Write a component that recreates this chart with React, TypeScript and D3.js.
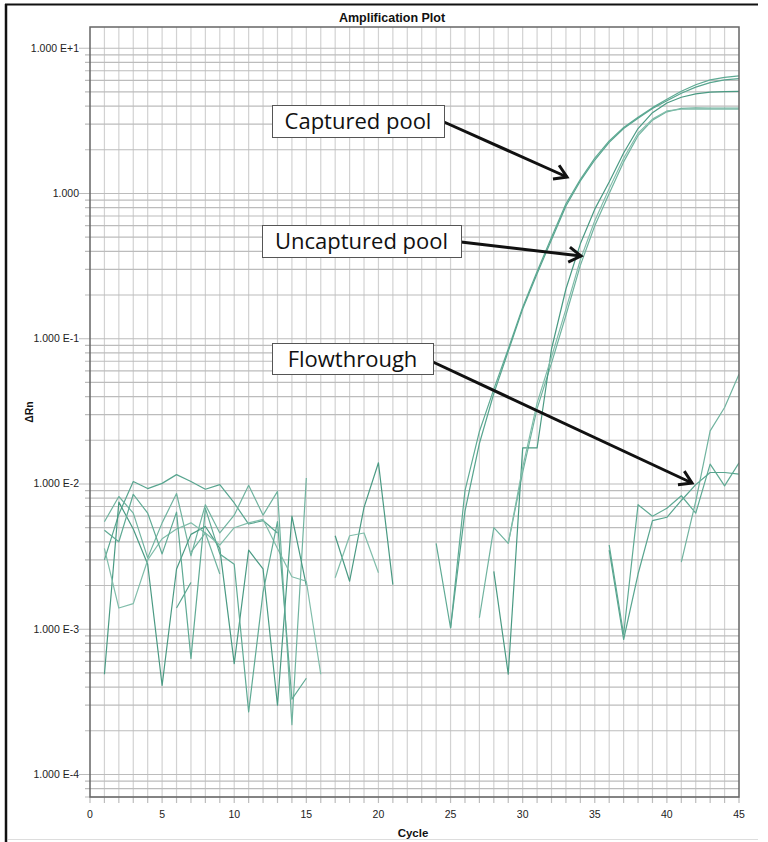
import React from 'react';
import * as d3 from 'd3';

const W = 768;
const H = 842;

// ---- axis data ----
const xDomain = [0, 45];
const yDomain = [7e-5, 14];
const xTickValues = [0, 5, 10, 15, 20, 25, 30, 35, 40, 45];
const yTickValues = [10, 1, 0.1, 0.01, 0.001, 0.0001];
const yTickLabels = ['1.000 E+1', '1.000', '1.000 E-1', '1.000 E-2', '1.000 E-3', '1.000 E-4'];

// ---- series data: first cycle + ΔRn values per cycle ----
const capturedPoolA = { start: 24, values: [0.0039, 0.00102, 0.009, 0.023, 0.045, 0.085, 0.165, 0.29, 0.5, 0.85, 1.25, 1.75, 2.3, 2.85, 3.35, 3.9, 4.45, 5.05, 5.6, 6.05, 6.3, 6.45] };
const capturedPoolB = { start: 25, values: [0.00102, 0.0065, 0.019, 0.042, 0.082, 0.16, 0.28, 0.48, 0.82, 1.22, 1.7, 2.25, 2.8, 3.3, 3.85, 4.35, 4.9, 5.4, 5.8, 6.05, 6.18] };
const uncapturedPoolA = { start: 27, values: [0.0012, 0.005, 0.0039, 0.012, 0.033, 0.068, 0.145, 0.32, 0.6, 1.0, 1.65, 2.5, 3.2, 3.65, 3.85, 3.88, 3.87, 3.87, 3.87] };
const uncapturedPoolB = { start: 28, values: [0.0025, 0.00049, 0.0177, 0.0177, 0.085, 0.22, 0.45, 0.78, 1.2, 1.9, 2.8, 3.6, 4.2, 4.6, 4.85, 4.98, 5.02, 5.05] };
const uncapturedPoolC = { start: 29, values: [0.0039, 0.013, 0.036, 0.075, 0.16, 0.35, 0.65, 1.08, 1.75, 2.6, 3.25, 3.7, 3.8, 3.8, 3.8, 3.8, 3.8] };
const flowthroughA = { start: 36, values: [0.0038, 0.00092, 0.0072, 0.006, 0.0068, 0.0083, 0.0063, 0.0137, 0.0097, 0.014] };
const flowthroughB = { start: 36, values: [0.0035, 0.00085, 0.0024, 0.0056, 0.0059, 0.0077, 0.0099, 0.012, 0.012, 0.0117] };
const flowthroughC = { start: 41, values: [0.0029, 0.0076, 0.0232, 0.0336, 0.057] };
const middleA = { start: 17, values: [0.0044, 0.00214, 0.0069, 0.014, 0.00203] };
const middleB = { start: 17, values: [0.00226, 0.0044, 0.0046, 0.00245] };
const noise1 = { start: 1, values: [0.003, 0.0062, 0.0104, 0.0093, 0.0101, 0.0116, 0.0104, 0.0092, 0.0099, 0.0074, 0.0053, 0.0056, 0.0046] };
const noise2 = { start: 1, values: [0.0055, 0.0082, 0.0063, 0.0031, 0.0054, 0.0086, 0.0032, 0.0072, 0.0046, 0.0061, 0.0098, 0.0061, 0.0089, 0.00022, 0.011] };
const noise3 = { start: 1, values: [0.00049, 0.0075, 0.0049, 0.0028, 0.00041, 0.0026, 0.0045, 0.0051, 0.0036, 0.00058, 0.0035, 0.0026, 0.0003, 0.006, 0.002] };
const noise4 = { start: 1, values: [0.0036, 0.0014, 0.0015, 0.003, 0.0042, 0.0049, 0.0054, 0.0046, 0.0038, 0.005, 0.0054, 0.0057, 0.0036, 0.0023, 0.00214, 0.00049] };
const noise5 = { start: 1, values: [0.0048, 0.004, 0.0085, 0.0063, 0.0033, 0.0064, 0.00063, 0.0068, 0.0033, 0.0028, 0.00027, 0.0018, 0.0055, 0.00033, 0.00046] };
const noise6 = { start: 6, values: [0.0014, 0.0021] };
const noise7 = { start: 7, values: [0.0034, 0.0046, 0.0024] };

const seriesList = [
  noise1, noise2, noise3, noise4, noise5, noise6, noise7,
  middleA, middleB,
  capturedPoolA, capturedPoolB,
  uncapturedPoolA, uncapturedPoolB, uncapturedPoolC,
  flowthroughA, flowthroughB, flowthroughC,
];
const seriesColors = ['#58a58f', '#70b39f', '#4a9a83', '#80bdaa', '#5faa94'];

// ---- annotations ----
const annotations = [
  { label: 'Captured pool', box: [272, 105, 172, 32], from: [444, 122], to: [567, 177] },
  { label: 'Uncaptured pool', box: [262, 225, 199, 32], from: [461, 242], to: [581, 256] },
  { label: 'Flowthrough', box: [272, 343, 161, 31], from: [433, 362], to: [692, 483] },
];

export default function App() {
  const left = 90, right = 739, top = 27, bottom = 797;
  const x = d3.scaleLinear().domain(xDomain).range([left, right]);
  const y = d3.scaleLog().domain(yDomain).range([bottom, top]);

  const minor: number[] = [];
  for (let e = -5; e <= 1; e++) {
    for (let k = 1; k <= 9; k++) {
      const v = k * Math.pow(10, e);
      if (v >= yDomain[0] && v <= yDomain[1]) minor.push(v);
    }
  }
  const cycles = d3.range(1, 45);
  const allCycles = d3.range(0, 46);

  const line = d3
    .line<[number, number | null]>()
    .defined((d) => d[1] != null)
    .x((d) => x(d[0]))
    .y((d) => y(d[1] as number));

  const font = "'Liberation Sans', Arial, sans-serif";

  return (
    <svg width={W} height={H} style={{ position: 'absolute', left: 0, top: 0, background: '#fff' }}>
      <defs>
        <marker id="ah" markerUnits="userSpaceOnUse" markerWidth="20" markerHeight="20" refX="14" refY="9" orient="auto">
          <path d="M2,1.5 L14,9 L2,16.5" fill="none" stroke="#111" strokeWidth="3" strokeLinejoin="miter" />
        </marker>
        <clipPath id="plotclip">
          <rect x={left} y={top} width={right - left} height={bottom - top} />
        </clipPath>
      </defs>
      <rect x={0} y={0} width={W} height={H} fill="#fff" />
      {/* outer frame */}
      <line x1={5} y1={4.5} x2={758} y2={4.5} stroke="#111" strokeWidth={2} />
      <line x1={6} y1={4} x2={6} y2={H} stroke="#111" strokeWidth={2.5} />
      <line x1={8} y1={839.5} x2={758} y2={839.5} stroke="#ddd" strokeWidth={1} />

      <text x={392} y={22} textAnchor="middle" fontFamily={font} fontWeight="bold" fontSize={12.5} fill="#111">
        Amplification Plot
      </text>

      {/* grid */}
      {cycles.map((c) => (
        <line key={'v' + c} x1={x(c)} x2={x(c)} y1={top} y2={bottom} stroke="#d2d2d2" strokeWidth={1.2} />
      ))}
      {minor.map((v, i) => (
        <line key={'h' + i} x1={left - (yTickValues.includes(v) ? 11 : 5)} x2={right} y1={y(v)} y2={y(v)} stroke="#bcbcbc" strokeWidth={1.2} />
      ))}
      {allCycles.map((c) => (
        <line key={'xt' + c} x1={x(c)} x2={x(c)} y1={bottom} y2={bottom + 6} stroke="#bdbdbd" strokeWidth={1.2} />
      ))}

      {/* series */}
      <g clipPath="url(#plotclip)">
        {seriesList.map((s, i) => {
          const pts: [number, number | null][] = s.values.map((v, j) => [s.start + j, v]);
          return (
            <path key={'s' + i} d={line(pts) || ''} fill="none" stroke={seriesColors[i % seriesColors.length]} strokeWidth={1.2} strokeLinejoin="round" />
          );
        })}
      </g>

      {/* plot border */}
      <rect x={left} y={top} width={right - left} height={bottom - top} fill="none" stroke="#666" strokeWidth={1.5} />

      {/* y tick labels */}
      {yTickValues.map((v, i) => (
        <text key={'yl' + i} x={79} y={y(v) + 3.5} textAnchor="end" fontFamily={font} fontSize={10.5} fill="#222">
          {yTickLabels[i]}
        </text>
      ))}
      {/* x tick labels */}
      {xTickValues.map((c) => (
        <text key={'xl' + c} x={x(c)} y={818} textAnchor="middle" fontFamily={font} fontSize={10.5} fill="#222">
          {c}
        </text>
      ))}
      <text x={413} y={837} textAnchor="middle" fontFamily={font} fontWeight="bold" fontSize={11.5} fill="#111">
        Cycle
      </text>
      <text transform={`translate(33,412) rotate(-90)`} textAnchor="middle" fontFamily={font} fontWeight="bold" fontSize={10.5} fill="#111">
        ΔRn
      </text>

      {/* annotations */}
      {annotations.map((a, i) => (
        <g key={'a' + i}>
          <line x1={a.from[0]} y1={a.from[1]} x2={a.to[0]} y2={a.to[1]} stroke="#111" strokeWidth={3} markerEnd="url(#ah)" />
          <rect x={a.box[0] + 0.5} y={a.box[1] + 0.5} width={a.box[2]} height={a.box[3]} fill="#fff" stroke="#555" strokeWidth={1} />
          <text x={a.box[0] + a.box[2] / 2} y={a.box[1] + 24} textAnchor="middle" fontFamily="'Open Sans', sans-serif" fontSize={22} fill="#111">
            {a.label}
          </text>
        </g>
      ))}
    </svg>
  );
}
